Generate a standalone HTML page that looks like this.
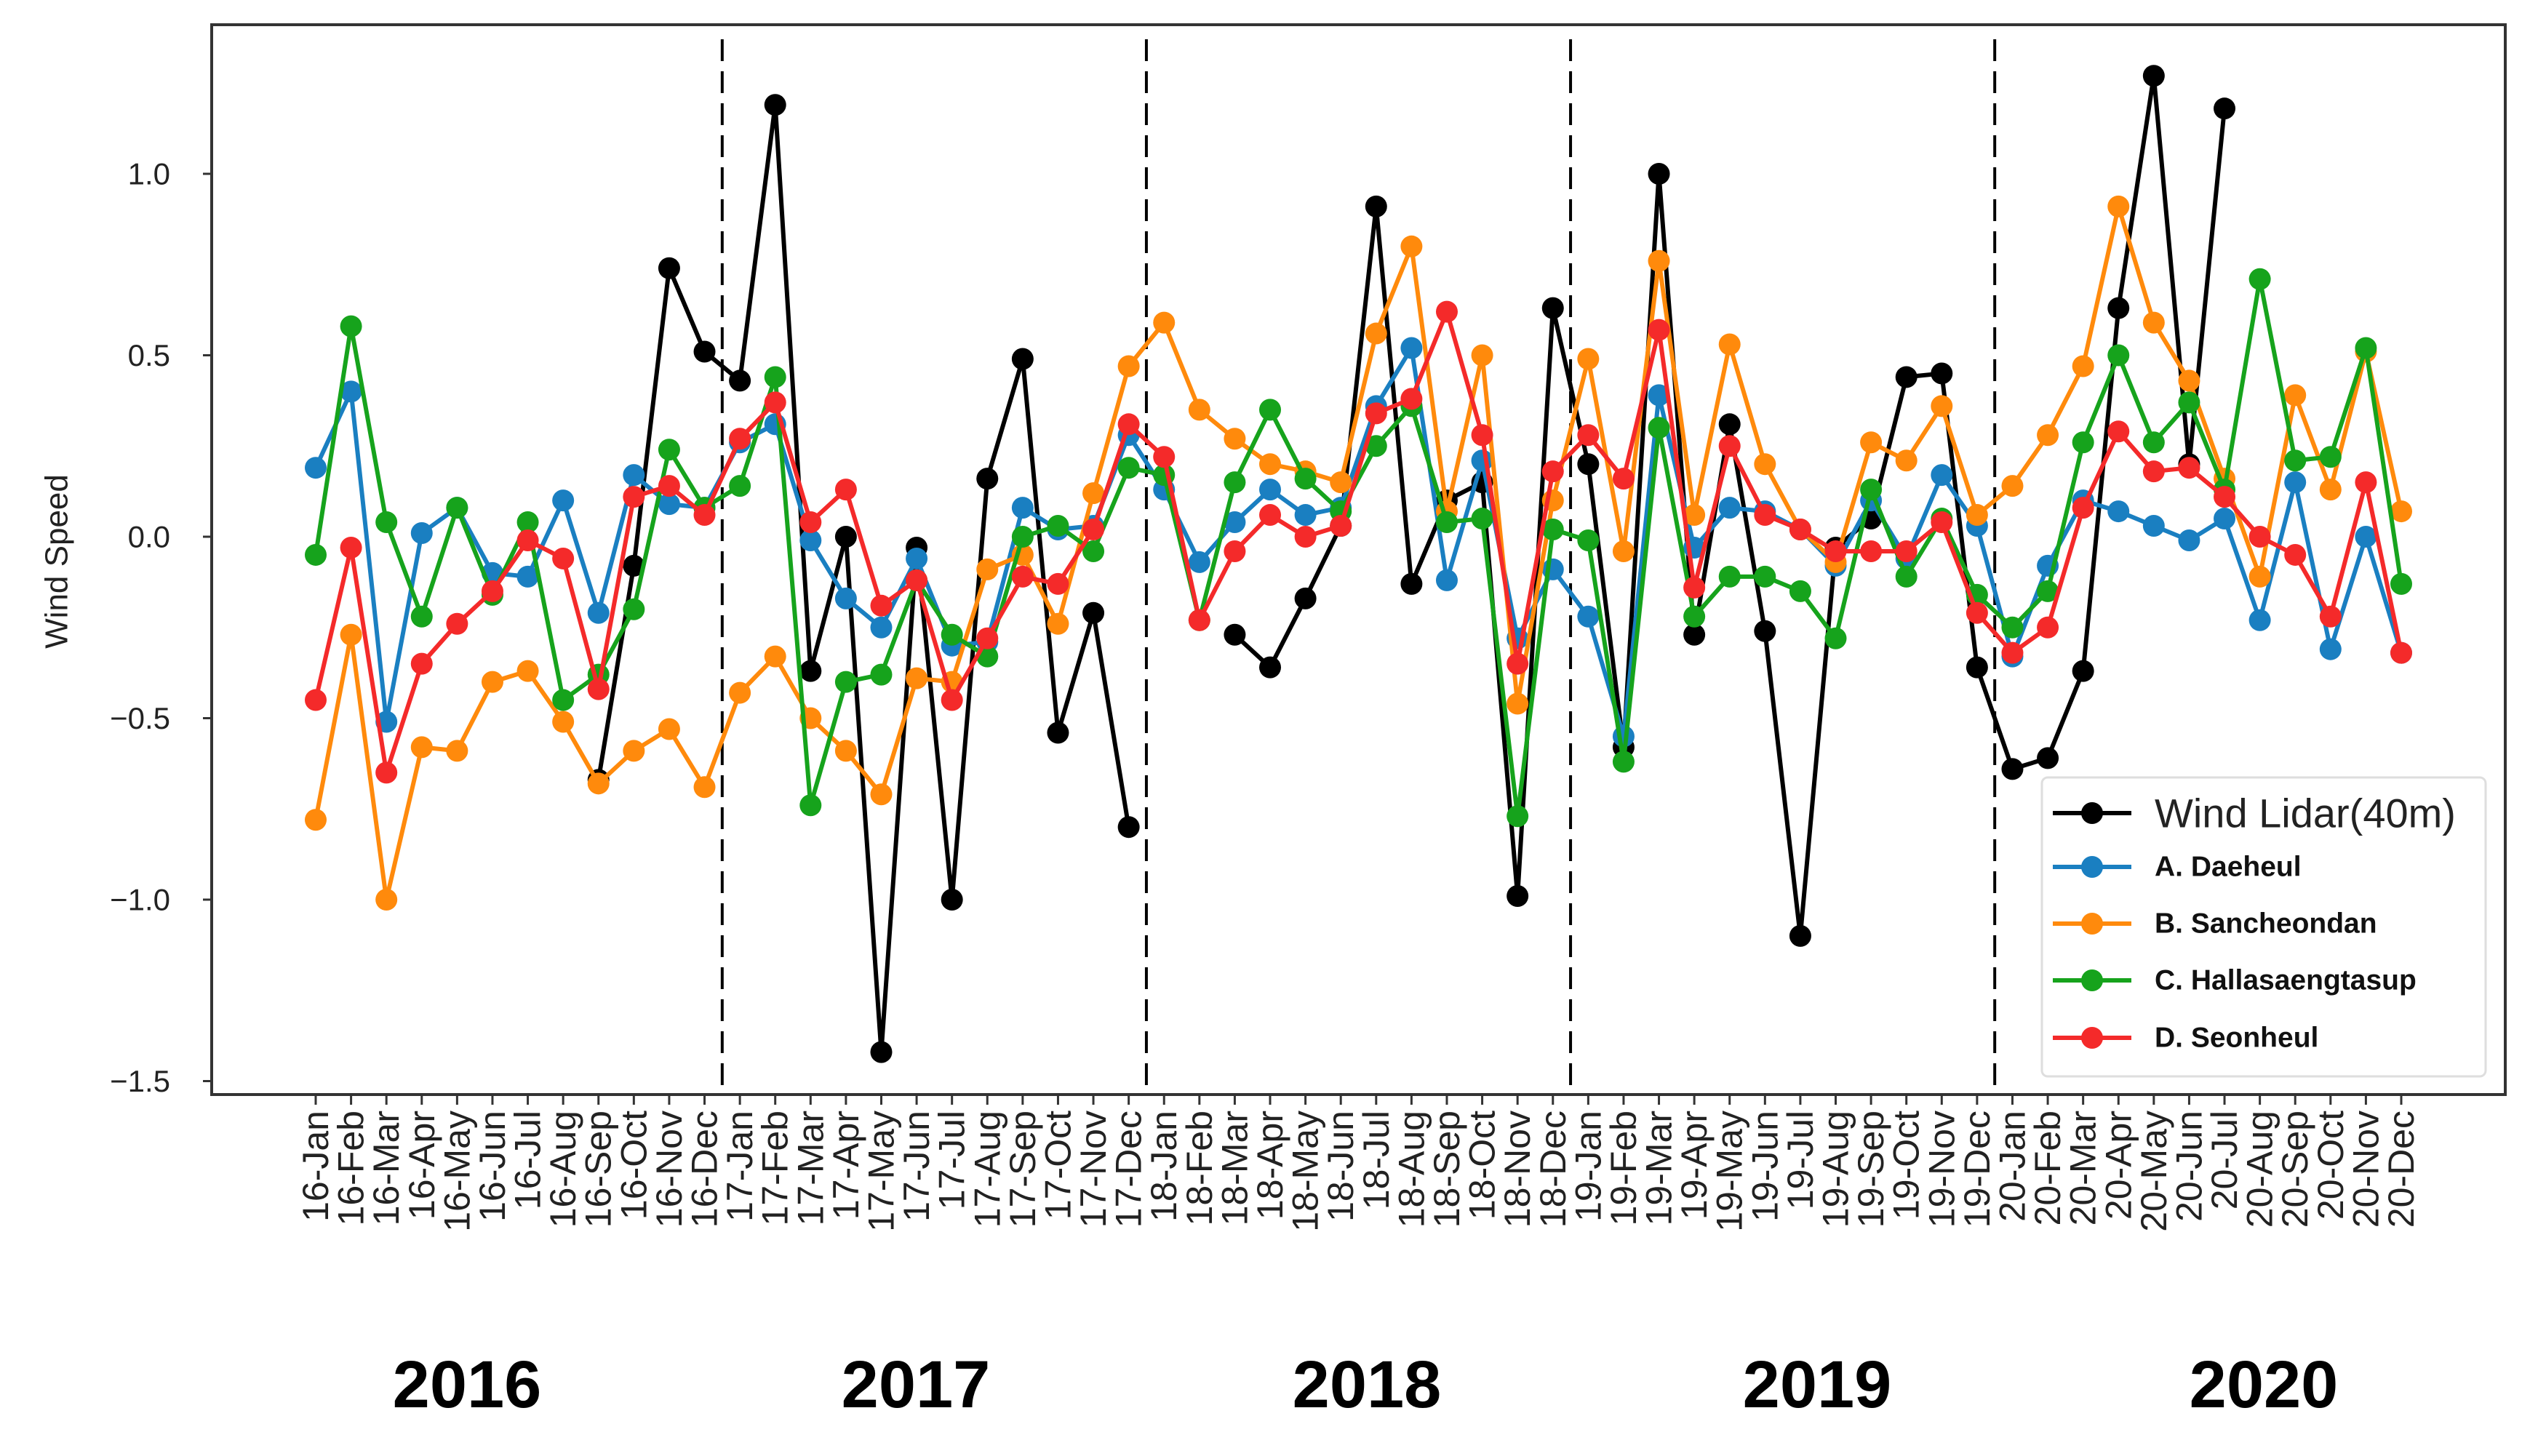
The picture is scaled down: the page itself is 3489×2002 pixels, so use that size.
<!DOCTYPE html>
<html><head><meta charset="utf-8"><style>
html,body{margin:0;padding:0;background:#fff;}
svg{display:block;font-family:"Liberation Sans","DejaVu Sans",sans-serif;}
</style></head><body>
<svg id="chart" width="3489" height="2002" viewBox="0 0 3489 2002" xmlns="http://www.w3.org/2000/svg">
<rect x="0" y="0" width="3489" height="2002" fill="#fff"/>
<g id="grid"></g>
<g id="series"></g>
<g id="axes"></g>
<g id="legend"></g>
</svg>
<script>
const months = ["Jan","Feb","Mar","Apr","May","Jun","Jul","Aug","Sep","Oct","Nov","Dec"];
const years = ["2016","2017","2018","2019","2020"];
const yTicks = [1.0, 0.5, 0.0, -0.5, -1.0, -1.5];
const yTickLabels = ["1.0","0.5","0.0","\u22120.5","\u22121.0","\u22121.5"];
const seriesNames = ["Wind Lidar(40m)","A. Daeheul","B. Sancheondan","C. Hallasaengtasup","D. Seonheul"];
const lidar = [null,null,null,null,null,null,null,null,-0.67,-0.08,0.74,0.51,
  0.43,1.19,-0.37,0.00,-1.42,-0.03,-1.00,0.16,0.49,-0.54,-0.21,-0.80,
  null,null,-0.27,-0.36,-0.17,0.03,0.91,-0.13,0.10,0.15,-0.99,0.63,
  0.20,-0.58,1.00,-0.27,0.31,-0.26,-1.10,-0.03,0.05,0.44,0.45,-0.36,
  -0.64,-0.61,-0.37,0.63,1.27,0.20,1.18,null,null,null,null,null];
const daeheul = [0.19,0.40,-0.51,0.01,0.08,-0.10,-0.11,0.10,-0.21,0.17,0.09,0.08,
  0.26,0.31,-0.01,-0.17,-0.25,-0.06,-0.30,-0.29,0.08,0.02,0.03,0.28,
  0.13,-0.07,0.04,0.13,0.06,0.08,0.36,0.52,-0.12,0.21,-0.28,-0.09,
  -0.22,-0.55,0.39,-0.03,0.08,0.07,0.02,-0.08,0.10,-0.06,0.17,0.03,
  -0.33,-0.08,0.10,0.07,0.03,-0.01,0.05,-0.23,0.15,-0.31,0.00,-0.32];
const sancheondan = [-0.78,-0.27,-1.00,-0.58,-0.59,-0.40,-0.37,-0.51,-0.68,-0.59,-0.53,-0.69,
  -0.43,-0.33,-0.50,-0.59,-0.71,-0.39,-0.40,-0.09,-0.05,-0.24,0.12,0.47,
  0.59,0.35,0.27,0.20,0.18,0.15,0.56,0.80,0.07,0.50,-0.46,0.10,
  0.49,-0.04,0.76,0.06,0.53,0.20,0.02,-0.07,0.26,0.21,0.36,0.06,
  0.14,0.28,0.47,0.91,0.59,0.43,0.16,-0.11,0.39,0.13,0.51,0.07];
const hallasaengtasup = [-0.05,0.58,0.04,-0.22,0.08,-0.16,0.04,-0.45,-0.38,-0.20,0.24,0.08,
  0.14,0.44,-0.74,-0.40,-0.38,-0.12,-0.27,-0.33,0.00,0.03,-0.04,0.19,
  0.17,-0.23,0.15,0.35,0.16,0.07,0.25,0.36,0.04,0.05,-0.77,0.02,
  -0.01,-0.62,0.30,-0.22,-0.11,-0.11,-0.15,-0.28,0.13,-0.11,0.05,-0.16,
  -0.25,-0.15,0.26,0.50,0.26,0.37,0.13,0.71,0.21,0.22,0.52,-0.13];
const seonheul = [-0.45,-0.03,-0.65,-0.35,-0.24,-0.15,-0.01,-0.06,-0.42,0.11,0.14,0.06,
  0.27,0.37,0.04,0.13,-0.19,-0.12,-0.45,-0.28,-0.11,-0.13,0.02,0.31,
  0.22,-0.23,-0.04,0.06,0.00,0.03,0.34,0.38,0.62,0.28,-0.35,0.18,
  0.28,0.16,0.57,-0.14,0.25,0.06,0.02,-0.04,-0.04,-0.04,0.04,-0.21,
  -0.32,-0.25,0.08,0.29,0.18,0.19,0.11,0.00,-0.05,-0.22,0.15,-0.32];

const NS="http://www.w3.org/2000/svg";
const L=291,R=3444,T=34,B=1505;
const X0=434,X1=3301;
function xPos(i){return X0+(X1-X0)*i/59;}
function yPos(v){return 738-v*(738-239);}
function mk(tag,attrs,parent){const e=document.createElementNS(NS,tag);for(const k in attrs)e.setAttribute(k,attrs[k]);parent.appendChild(e);return e;}

const labels=[];
years.forEach(y=>months.forEach(m=>labels.push(y.slice(2)+"-"+m)));

const axes=document.getElementById('axes');
const grid=document.getElementById('grid');
for(let k=1;k<years.length;k++){
  const x=(xPos(12*k-1)+xPos(12*k))/2;
  const ln=mk('line',{x1:x,y1:T+20,x2:x,y2:B,stroke:'#000','stroke-width':4,'stroke-dasharray':'30,14'},grid);
  
  
}
const fr=mk('rect',{x:L,y:T,width:R-L,height:B-T,fill:'none',stroke:'#333','stroke-width':4},axes);


yTicks.forEach((v,i)=>{
  const y=yPos(v);
  mk('line',{x1:L-12,y1:y,x2:L,y2:y,stroke:'#333','stroke-width':3},axes);
  const t=mk('text',{x:234,y:y,'font-size':42,'text-anchor':'end','dominant-baseline':'central',fill:'#222'},axes);
  t.textContent=yTickLabels[i];
  
  
});
const yt=mk('text',{x:78,y:772,'font-size':44,'text-anchor':'middle','dominant-baseline':'central',fill:'#222',transform:'rotate(-90 78 772)'},axes);
yt.textContent='Wind Speed';


labels.forEach((lab,i)=>{
  const x=xPos(i);
  mk('line',{x1:x,y1:B,x2:x,y2:B+14,stroke:'#333','stroke-width':3},axes);
  const t=mk('text',{x:x,y:B+22,'font-size':50,'text-anchor':'end','dominant-baseline':'central',fill:'#222',transform:'rotate(-90 '+x+' '+(B+22)+')'},axes);
  t.textContent=lab;
  
  
});
const yearX=[642,1259,1879,2498,3112];
years.forEach((y,k)=>{
  const t=mk('text',{x:yearX[k],y:1935,'font-size':92,'font-weight':'bold','text-anchor':'middle',fill:'#000'},axes);
  t.textContent=y;
  
  
});

const colors=['#000000','#1a7fc1','#ff8a0c','#16a31c','#f42a2a'];
const data=[lidar,daeheul,sancheondan,hallasaengtasup,seonheul];
const sg=document.getElementById('series');
data.forEach((arr,s)=>{
  const g=mk('g',{},sg);
  
  
  let d='',pen=false;
  arr.forEach((v,i)=>{
    if(v===null){pen=false;return;}
    d+=(pen?'L':'M')+xPos(i).toFixed(1)+' '+yPos(v).toFixed(1)+' ';pen=true;
  });
  const p=mk('path',{d:d,fill:'none',stroke:colors[s],'stroke-width':6,'stroke-linejoin':'round'},g);
  
  
  arr.forEach((v,i)=>{
    if(v===null)return;
    const c=mk('circle',{cx:xPos(i),cy:yPos(v),r:15,fill:colors[s]},g);
    
    
  });
});

const lg=document.getElementById('legend');
const box=mk('rect',{x:2807,y:1069,width:610,height:411,rx:8,fill:'#fff',stroke:'#ddd','stroke-width':3,opacity:0.95},lg);


const rows=[1118,1192,1270,1348,1427];
seriesNames.forEach((n,s)=>{
  const y=rows[s];
  mk('line',{x1:2822,y1:y,x2:2930,y2:y,stroke:colors[s],'stroke-width':6},lg);
  mk('circle',{cx:2876,cy:y,r:15,fill:colors[s]},lg);
  const t=mk('text',{x:2962,y:y,'font-size':s===0?56:39,'font-weight':s===0?'normal':'bold','dominant-baseline':'central',fill:s===0?'#222':'#111'},lg);
  t.textContent=n;
  
  
});
</script>
</body></html>
